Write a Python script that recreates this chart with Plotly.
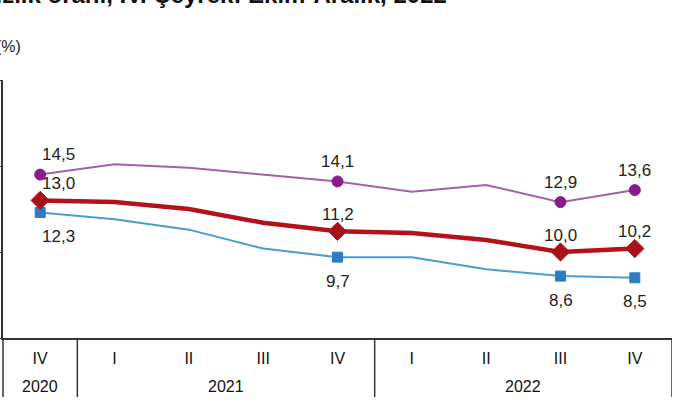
import plotly.graph_objects as go

quarters = ["IV", "I", "II", "III", "IV", "I", "II", "III", "IV"]
years = ["2020", "2021", "2021", "2021", "2021", "2022", "2022", "2022", "2022"]

kadin = [14.5, 15.1, 14.9, 14.5, 14.1, 13.5, 13.9, 12.9, 13.6]
toplam = [13.0, 12.9, 12.5, 11.7, 11.2, 11.1, 10.7, 10.0, 10.2]
erkek = [12.3, 11.9, 11.3, 10.2, 9.7, 9.7, 9.0, 8.6, 8.5]

labelled = [0, 4, 7, 8]

x = list(range(len(quarters)))
narrow = "Liberation Sans Narrow, Arial Narrow, Liberation Sans, Arial"

series = [
    # values, line colour, line width, marker symbol, marker size, marker colour, label shift
    (kadin, "#a55fa5", 2, "circle", 11, "#8b1a8b", 20),
    (erkek, "#4a9bd0", 2, "square", 10, "#2e7dc0", -24),
    (toplam, "#b3121b", 4.5, "diamond", 14, "#a8101a", 17),
]

fig = go.Figure()
annotations = []

for vals, lc, lw, sym, ms, mc, shift in series:
    fig.add_trace(go.Scatter(
        x=x, y=vals, mode="lines",
        line=dict(color=lc, width=lw),
    ))
    fig.add_trace(go.Scatter(
        x=[x[i] for i in labelled], y=[vals[i] for i in labelled], mode="markers",
        marker=dict(symbol=sym, size=ms, color=mc, line=dict(color=mc, width=1)),
    ))
    for i in labelled:
        annotations.append(dict(
            x=x[i], y=vals[i], xref="x", yref="y",
            text=f"{vals[i]:.1f}".replace(".", ","), showarrow=False,
            xshift=18 if i == 0 else 0, yshift=shift,
            font=dict(size=17, color="#222222"),
        ))

# year labels and the dividers under the axis
shapes = []
for y in dict.fromkeys(years):
    idx = [i for i, v in enumerate(years) if v == y]
    annotations.append(dict(
        x=sum(idx) / len(idx), y=0, xref="x", yref="paper", yshift=-48,
        text=y, showarrow=False, yanchor="middle",
        font=dict(size=16, color="#111111", family=narrow),
    ))
    shapes.append(dict(type="line", xref="x", yref="paper",
                       x0=idx[-1] + 0.5, x1=idx[-1] + 0.5, y0=0, y1=-0.229,
                       line=dict(color="#333333", width=1.5)))
shapes.append(dict(type="line", xref="paper", yref="paper", x0=0, x1=0, y0=0, y1=-0.229,
                   line=dict(color="#333333", width=1.5)))

annotations.append(dict(
    x=0.667, y=1.27, xref="paper", yref="paper",
    text="<b>Mevsim etkisinden arındırılmış işsizlik oranı, IV. Çeyrek: Ekim-Aralık, 2022</b>",
    showarrow=False, xanchor="right", yanchor="bottom",
    font=dict(size=24, color="#111111"),
))
annotations.append(dict(
    x=0, y=1, xref="paper", yref="paper", xshift=20, yshift=34, text="(%)",
    showarrow=False, xanchor="right", yanchor="middle",
    font=dict(size=16, color="#222222"),
))

fig.update_layout(
    width=700, height=420,
    margin=dict(l=3, r=28, t=80, b=82),
    plot_bgcolor="white", paper_bgcolor="white",
    showlegend=False,
    font=dict(family="Liberation Sans, Arial, sans-serif"),
    xaxis=dict(
        range=[-0.5, 8.5], tickvals=x, ticktext=quarters,
        showline=True, linecolor="#333333", linewidth=1.5,
        showgrid=False, zeroline=False, ticks="",
        tickfont=dict(size=16, color="#111111", family=narrow),
        ticklabelstandoff=5, automargin=False,
    ),
    yaxis=dict(
        range=[5, 20], dtick=5, showticklabels=False,
        showline=True, linecolor="#333333", linewidth=1.5,
        ticks="outside", ticklen=6, tickcolor="#333333",
        showgrid=False, zeroline=False, automargin=False,
    ),
    annotations=annotations,
    shapes=shapes,
)

fig.write_html("out.html", config=dict(displayModeBar=False),
               post_script="document.body.style.margin='0px';")
